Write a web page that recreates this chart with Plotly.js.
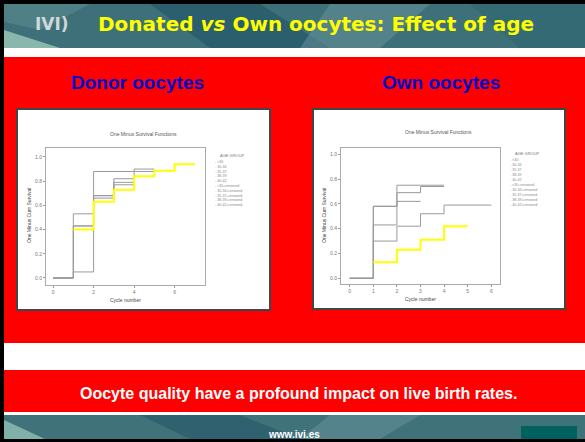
<!DOCTYPE html>
<html><head><meta charset="utf-8">
<script src="https://cdn.plot.ly/plotly-3.0.1.min.js"></script>
<style>html,body{margin:0;padding:0;background:#fff;}#chart{width:585px;height:442px;}</style>
</head><body><div id="chart"></div>
<script>
// ---- data ----
const slideTitle = 'Donated <i>vs</i> Own oocytes: Effect of age';
const leftTitle = 'Donor oocytes';
const rightTitle = 'Own oocytes';
const footnote = 'Oocyte quality have a profound impact on live birth rates.';
const website = 'www.ivi.es';
const innerTitle = 'One Minus Survival Functions';
const yTitle = 'One Minus Cum Survival';
const xTitle = 'Cycle number';
const legendTitle = 'AGE GROUP';
const legendLabels = ['<30','30-34','35-37','38-39','40-42','<30-censored','30-34-censored','35-37-censored','38-39-censored','40-42-censored'];

const donorTicksX = [0,2,4,6];
const ownTicksX = [0,1,2,3,4,5,6];
const ticksY = [0,0.2,0.4,0.6,0.8,1.0];

// donor oocytes: highlighted (yellow) curve
const donorYellowX = [1,2,3,4,5,6,7];
const donorYellowY = [0.40,0.63,0.73,0.84,0.885,0.94,0.94];
// donor oocytes: other age groups (gray)
const donorG1X = [0,1,2,3,4,5];
const donorG1Y = [0,0.53,0.68,0.82,0.90,0.90];
const donorG2X = [0,1,2,5];
const donorG2Y = [0,0.43,0.88,0.88];
const donorG3X = [0,1,2,3,4];
const donorG3Y = [0,0.43,0.68,0.79,0.79];
const donorG4X = [0,1,2,3,4];
const donorG4Y = [0,0.05,0.66,0.77,0.77];

// own oocytes: highlighted (yellow) curve
const ownYellowX = [1,2,3,4,5];
const ownYellowY = [0.13,0.23,0.31,0.42,0.42];
// own oocytes: other age groups (gray)
const ownG1X = [0,1,2,3,4];
const ownG1Y = [0,0.58,0.69,0.74,0.74];
const ownG2X = [0,1,2,3,4,6];
const ownG2Y = [0,0.30,0.42,0.52,0.59,0.59];
const ownG3X = [0,1,2,3];
const ownG3Y = [0,0.43,0.62,0.62];
const ownG4X = [0,1,2,3,4];
const ownG4Y = [0,0.58,0.75,0.75,0.75];

// ---- helpers (pixel -> paper) ----
const W = 585, H = 442;
const px = x => x / W;
const py = y => 1 - y / H;
function rect(x0,y0,x1,y1,fill,line){
  return {type:'rect',xref:'paper',yref:'paper',x0:px(x0),x1:px(x1),y0:py(y1),y1:py(y0),
    fillcolor:fill,line:line||{width:0},layer:'below'};
}
function poly(pts,fill,op){
  let d = pts.map((p,i)=>(i?'L':'M')+px(p[0])+','+py(p[1])).join(' ')+' Z';
  return {type:'path',xref:'paper',yref:'paper',path:d,fillcolor:fill,opacity:op,line:{width:0},layer:'below'};
}
function ann(text,x,y,size,color,opts){
  return Object.assign({text:text,xref:'paper',yref:'paper',x:px(x),y:py(y),showarrow:false,
    xanchor:'center',yanchor:'middle',font:{size:size,color:color,family:'Liberation Sans, Arial, sans-serif'}},opts||{});
}

const grayLine = {color:'#9a9a9a',width:1,shape:'hv'};
const yellowLine = {color:'#ffff00',width:2,shape:'hv'};
function tr(x,y,line,xa,ya){return {x:x,y:y,type:'scatter',mode:'lines',line:line,xaxis:xa,yaxis:ya,hoverinfo:'skip',showlegend:false};}

const data = [
  tr(donorG1X,donorG1Y,grayLine,'x','y'),
  tr(donorG2X,donorG2Y,grayLine,'x','y'),
  tr(donorG3X,donorG3Y,grayLine,'x','y'),
  tr(donorG4X,donorG4Y,grayLine,'x','y'),
  tr(donorYellowX,donorYellowY,yellowLine,'x','y'),
  tr(ownG1X,ownG1Y,grayLine,'x2','y2'),
  tr(ownG2X,ownG2Y,grayLine,'x2','y2'),
  tr(ownG3X,ownG3Y,grayLine,'x2','y2'),
  tr(ownG4X,ownG4Y,grayLine,'x2','y2'),
  tr(ownYellowX,ownYellowY,yellowLine,'x2','y2')
];

const shapes = [
  rect(0,0,585,442,'#ffffff'),
  rect(4,4,585,48,'#3d7079'),
  poly([[4,30],[60,48],[4,48]],'#9cc9bb',0.8),
  poly([[4,4],[90,4],[40,30],[4,22]],'#5a8a8e',0.6),
  poly([[150,4],[260,4],[330,48],[210,48]],'#1f5264',0.55),
  poly([[330,4],[430,4],[380,48],[300,48]],'#6c939d',0.5),
  poly([[470,4],[585,4],[585,48],[520,48]],'#2b6470',0.5),
  rect(4,57,585,343,'#ff0000'),
  rect(4,370,585,412,'#ff0000'),
  rect(4,415,585,439,'#3f7379'),
  poly([[4,420],[45,439],[4,439]],'#8dbbb0',0.85),
  poly([[140,415],[240,415],[300,439],[190,439]],'#1f5264',0.5),
  poly([[330,415],[420,415],[380,439],[300,439]],'#6c939d',0.5),
  rect(521,426,577,439,'#00615e'),
  rect(0,0,4,442,'#000000'),
  rect(0,0,585,4,'#000000'),
  rect(0,439,585,442,'#000000'),
  rect(17,109,270,310,'#ffffff',{color:'#444444',width:2}),
  rect(313,109,565,309,'#ffffff',{color:'#444444',width:2})
];

const annotations = [
  ann('<b>IVI)</b>',52,24,17,'#d0d8da',{font:{size:17,color:'#d0d8da',family:'DejaVu Sans, sans-serif'}}),
  ann('<b>'+slideTitle+'</b>',316,24,20,'#ffff00',{font:{size:20,color:'#ffff00',family:'DejaVu Sans, sans-serif'}}),
  ann('<b>'+leftTitle+'</b>',137,82,19,'#0000cc'),
  ann('<b>'+rightTitle+'</b>',441,82,19,'#0000cc'),
  ann('<b>'+footnote+'</b>',298,393,16,'#ffffff'),
  ann('<b>'+website+'</b>',294,434,10,'#ffffff'),
  ann(innerTitle,143,134,5,'#555555'),
  ann(innerTitle,438,132,5,'#555555'),
  ann(yTitle,29,216,5,'#444444',{textangle:-90}),
  ann(yTitle,324,216,5,'#444444',{textangle:-90}),
  ann(xTitle,125,300,5,'#444444'),
  ann(xTitle,420,299,5,'#444444'),
  ann(legendTitle,232,155,4,'#777777'),
  ann(legendTitle,527,153,4,'#777777')
];
legendLabels.forEach((lab,i)=>{
  annotations.push(ann('- '+lab,213,162+i*4.8,3.6,'#888888',{xanchor:'left'}));
  annotations.push(ann('- '+lab,508,160+i*5,3.6,'#888888',{xanchor:'left'}));
});

function axis(domain,range,tickvals,fmt,anchor){
  return {domain:domain,range:range,tickvals:tickvals,tickformat:fmt,anchor:anchor,
    ticks:'outside',ticklen:2,tickcolor:'#999',tickfont:{size:5,color:'#777',family:'Liberation Sans, Arial'},
    showline:true,linecolor:'#aaaaaa',linewidth:1,mirror:true,showgrid:false,zeroline:false,fixedrange:true};
}

const layout = {
  width:W,height:H,margin:{l:0,r:0,t:0,b:0},
  paper_bgcolor:'#ffffff',plot_bgcolor:'#efefef',showlegend:false,
  xaxis:axis([px(46),px(205)],[-0.35,7.5],donorTicksX,'d','y'),
  yaxis:axis([py(285),py(148)],[-0.058,1.074],ticksY,'.1f','x'),
  xaxis2:axis([px(341),px(500)],[-0.37,6.37],ownTicksX,'d','y2'),
  yaxis2:axis([py(284),py(148)],[-0.046,1.05],ticksY,'.1f','x2'),
  shapes:shapes,annotations:annotations
};
Plotly.newPlot('chart',data,layout,{staticPlot:true,displayModeBar:false});
</script></body></html>
